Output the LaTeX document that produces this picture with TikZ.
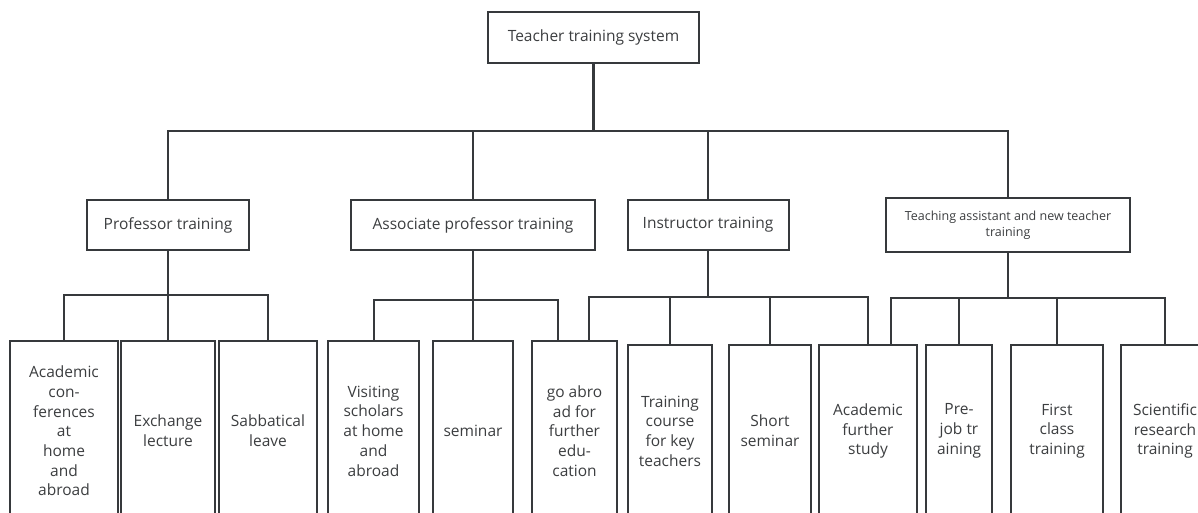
\documentclass[tikz,border=0pt]{standalone}
\usepackage{fontspec}
\setmainfont{Open Sans}
\definecolor{ln}{HTML}{36393C}
\definecolor{tx}{HTML}{3C3E40}
\begin{document}
\begin{tikzpicture}[x=1pt,y=-1pt,
  box/.style={draw=ln, line width=2pt, fill=white, align=center, text=tx, inner sep=0pt},
  lvl/.style={box, font=\fontsize{15.5}{18}\selectfont},
  leaf/.style={box, anchor=north, font=\fontsize{15.5}{19.7}\selectfont},
  conn/.style={draw=ln, line width=2pt},
  thickconn/.style={draw=ln, line width=2.6pt}]
\useasboundingbox (0,0) rectangle (1198,513);
% root and level 2
\node[lvl, minimum width=211pt, minimum height=51pt] (root) at (593.5,37.5) {Teacher training system};
\node[lvl, minimum width=162pt, minimum height=50pt] (prof) at (168,225) {Professor training};
\node[lvl, minimum width=244pt, minimum height=50pt] (assoc) at (473,225) {Associate professor training};
\node[lvl, minimum width=161pt, minimum height=50pt] (instr) at (708,225) {Instructor training};
\node[lvl, font=\fontsize{12.5}{16}\selectfont, minimum width=244pt, minimum height=54pt] (ta) at (1008,225) {Teaching assistant and new teacher\\training};
% leaves, groups 1 and 2
\node[leaf, minimum width=108pt, minimum height=180pt] (l1) at (64,340) {Academic\\con-\\ferences\\at\\home\\and\\abroad};
\node[leaf, minimum width=94pt, minimum height=180pt] (l2) at (168,340) {Exchange\\lecture};
\node[leaf, minimum width=98pt, minimum height=180pt] (l3) at (268,340) {Sabbatical\\leave};
\node[leaf, minimum width=91pt, minimum height=180pt] (l4) at (373.5,340) {Visiting\\scholars\\at home\\and\\abroad};
\node[leaf, minimum width=80pt, minimum height=180pt] (l5) at (473,340) {seminar};
\node[leaf, minimum width=85pt, minimum height=180pt] (l6) at (574.5,340) {go abro\\ad for\\further\\edu-\\cation};
% leaves, groups 3 and 4
\node[leaf, minimum width=84pt, minimum height=172pt] (l7) at (670,344) {Training\\course\\for key\\teachers};
\node[leaf, minimum width=82pt, minimum height=172pt] (l8) at (770,344) {Short\\seminar};
\node[leaf, minimum width=98pt, minimum height=172pt] (l9) at (868,344) {Academic\\further\\study};
\node[leaf, minimum width=66pt, minimum height=172pt] (l10) at (959,344) {Pre-\\job tr\\aining};
\node[leaf, minimum width=92pt, minimum height=172pt] (l11) at (1057,344) {First\\class\\training};
\node[leaf, minimum width=88pt, minimum height=172pt] (l12) at (1165,344) {Scientific\\research\\training};
% junction coordinates
\coordinate (r0) at (594,131);
\coordinate (p0) at (168,295);
\coordinate (a0) at (473,300);
\coordinate (i0) at (708,297);
\coordinate (t0) at (1008,298);
\coordinate (ga1) at (558,340);
\coordinate (ga2) at (589,340);
\coordinate (af2) at (891,344);
% top level connectors
\draw[thickconn] (root.south) -- (root.south |- r0);
\draw[conn] (prof.north) -- (prof.north |- r0) -- (ta.north |- r0) -- (ta.north);
\draw[conn] (assoc.north) -- (assoc.north |- r0);
\draw[conn] (instr.north) -- (instr.north |- r0);
% professor group
\draw[conn] (prof.south) -- (prof.south |- p0);
\draw[conn] (l1.north) -- (l1.north |- p0) -- (l3.north |- p0) -- (l3.north);
\draw[conn] (l2.north) -- (l2.north |- p0);
% associate group
\draw[conn] (assoc.south) -- (assoc.south |- a0);
\draw[conn] (l4.north) -- (l4.north |- a0) -- (ga1 |- a0) -- (ga1);
\draw[conn] (l5.north) -- (l5.north |- a0);
% instructor group
\draw[thickconn] (instr.south) -- (instr.south |- i0);
\draw[conn] (ga2) -- (ga2 |- i0) -- (l9.north |- i0) -- (l9.north);
\draw[conn] (l7.north) -- (l7.north |- i0);
\draw[conn] (l8.north) -- (l8.north |- i0);
% teaching assistant group
\draw[thickconn] (ta.south) -- (ta.south |- t0);
\draw[conn] (af2) -- (af2 |- t0) -- (l12.north |- t0) -- (l12.north);
\draw[conn] (l10.north) -- (l10.north |- t0);
\draw[conn] (l11.north) -- (l11.north |- t0);
\end{tikzpicture}
\end{document}
